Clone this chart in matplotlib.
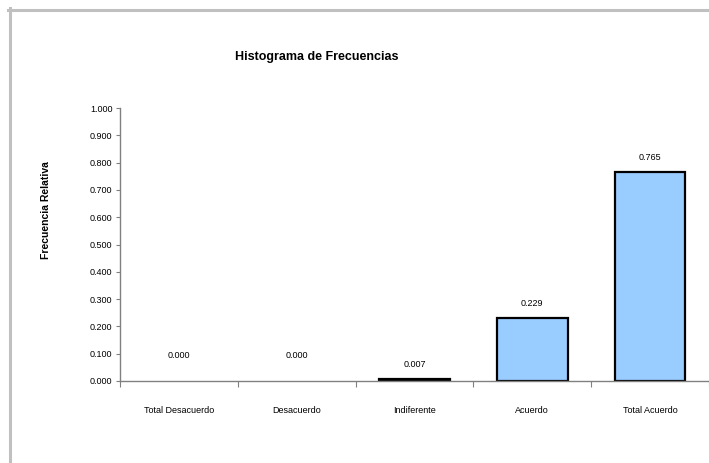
import matplotlib

matplotlib.use("Agg")
import matplotlib.pyplot as plt
from matplotlib.lines import Line2D
import numpy as np

plt.rcParams["font.family"] = ["Liberation Sans", "DejaVu Sans"]

categories = ["Total Desacuerdo", "Desacuerdo", "Indiferente", "Acuerdo", "Total Acuerdo"]
rel_freq = [0.000, 0.000, 0.007, 0.229, 0.765]
y_ticks = [0.0, 0.1, 0.2, 0.3, 0.4, 0.5, 0.6, 0.7, 0.8, 0.9, 1.0]

W, H = 709, 463
fig = plt.figure(figsize=(W / 100, H / 100), dpi=100)

# grey chart-area border (top and left edges visible)
border = "#c0c0c0"
fig.add_artist(Line2D([8 / W, 1.0], [1 - 9.5 / H, 1 - 9.5 / H], color=border, lw=2.2))
fig.add_artist(Line2D([9.5 / W, 9.5 / W], [0.0, 1 - 8 / H], color=border, lw=2.2))

ax = fig.add_axes([120 / W, (H - 381) / H, (709 - 120) / W, 273 / H])

x = np.arange(len(categories))
# zero-height bars draw no outline
edge_w = [1.6 if v > 0 else 0 for v in rel_freq]
ax.bar(x, rel_freq, width=0.6, color="#99ccff", edgecolor="black", linewidth=edge_w)

for xi, v in zip(x, rel_freq):
    off = 25 if v == 0 else 15
    ax.annotate(f"{v:.3f}", (xi, v), xytext=(0, off), textcoords="offset pixels",
                ha="center", va="center", fontsize=6.5)

ax.set_xlim(-0.5, len(categories) - 0.5)
ax.set_ylim(0, 1.0)
ax.set_yticks(y_ticks)
ax.set_yticklabels([f"{t:.3f}" for t in y_ticks], fontsize=6.5)
ax.tick_params(axis="y", length=3, width=0.8, color="#808080", pad=2.5)

# category boundaries get the tick marks, labels sit in the middle
ax.set_xticks(np.arange(len(categories) + 1) - 0.5)
ax.set_xticklabels([])
ax.set_xticks(x, minor=True)
ax.set_xticklabels(categories, minor=True, fontsize=6.5)
ax.tick_params(axis="x", which="major", length=4, width=0.8, color="#808080")
ax.tick_params(axis="x", which="minor", length=0, pad=18)

for side in ["top", "right"]:
    ax.spines[side].set_visible(False)
for side in ["left", "bottom"]:
    ax.spines[side].set_color("#808080")
    ax.spines[side].set_linewidth(1.0)

ax.set_ylabel("Frecuencia Relativa", fontsize=7.5, fontweight="bold")
ax.yaxis.set_label_coords(-(120 - 51) / (709 - 120), (381 - 210) / 273)

fig.text(317 / W, 1 - 57 / H, "Histograma de Frecuencias", ha="center", va="center",
         fontsize=9, fontweight="bold")

fig.savefig("out.png", dpi=100)
